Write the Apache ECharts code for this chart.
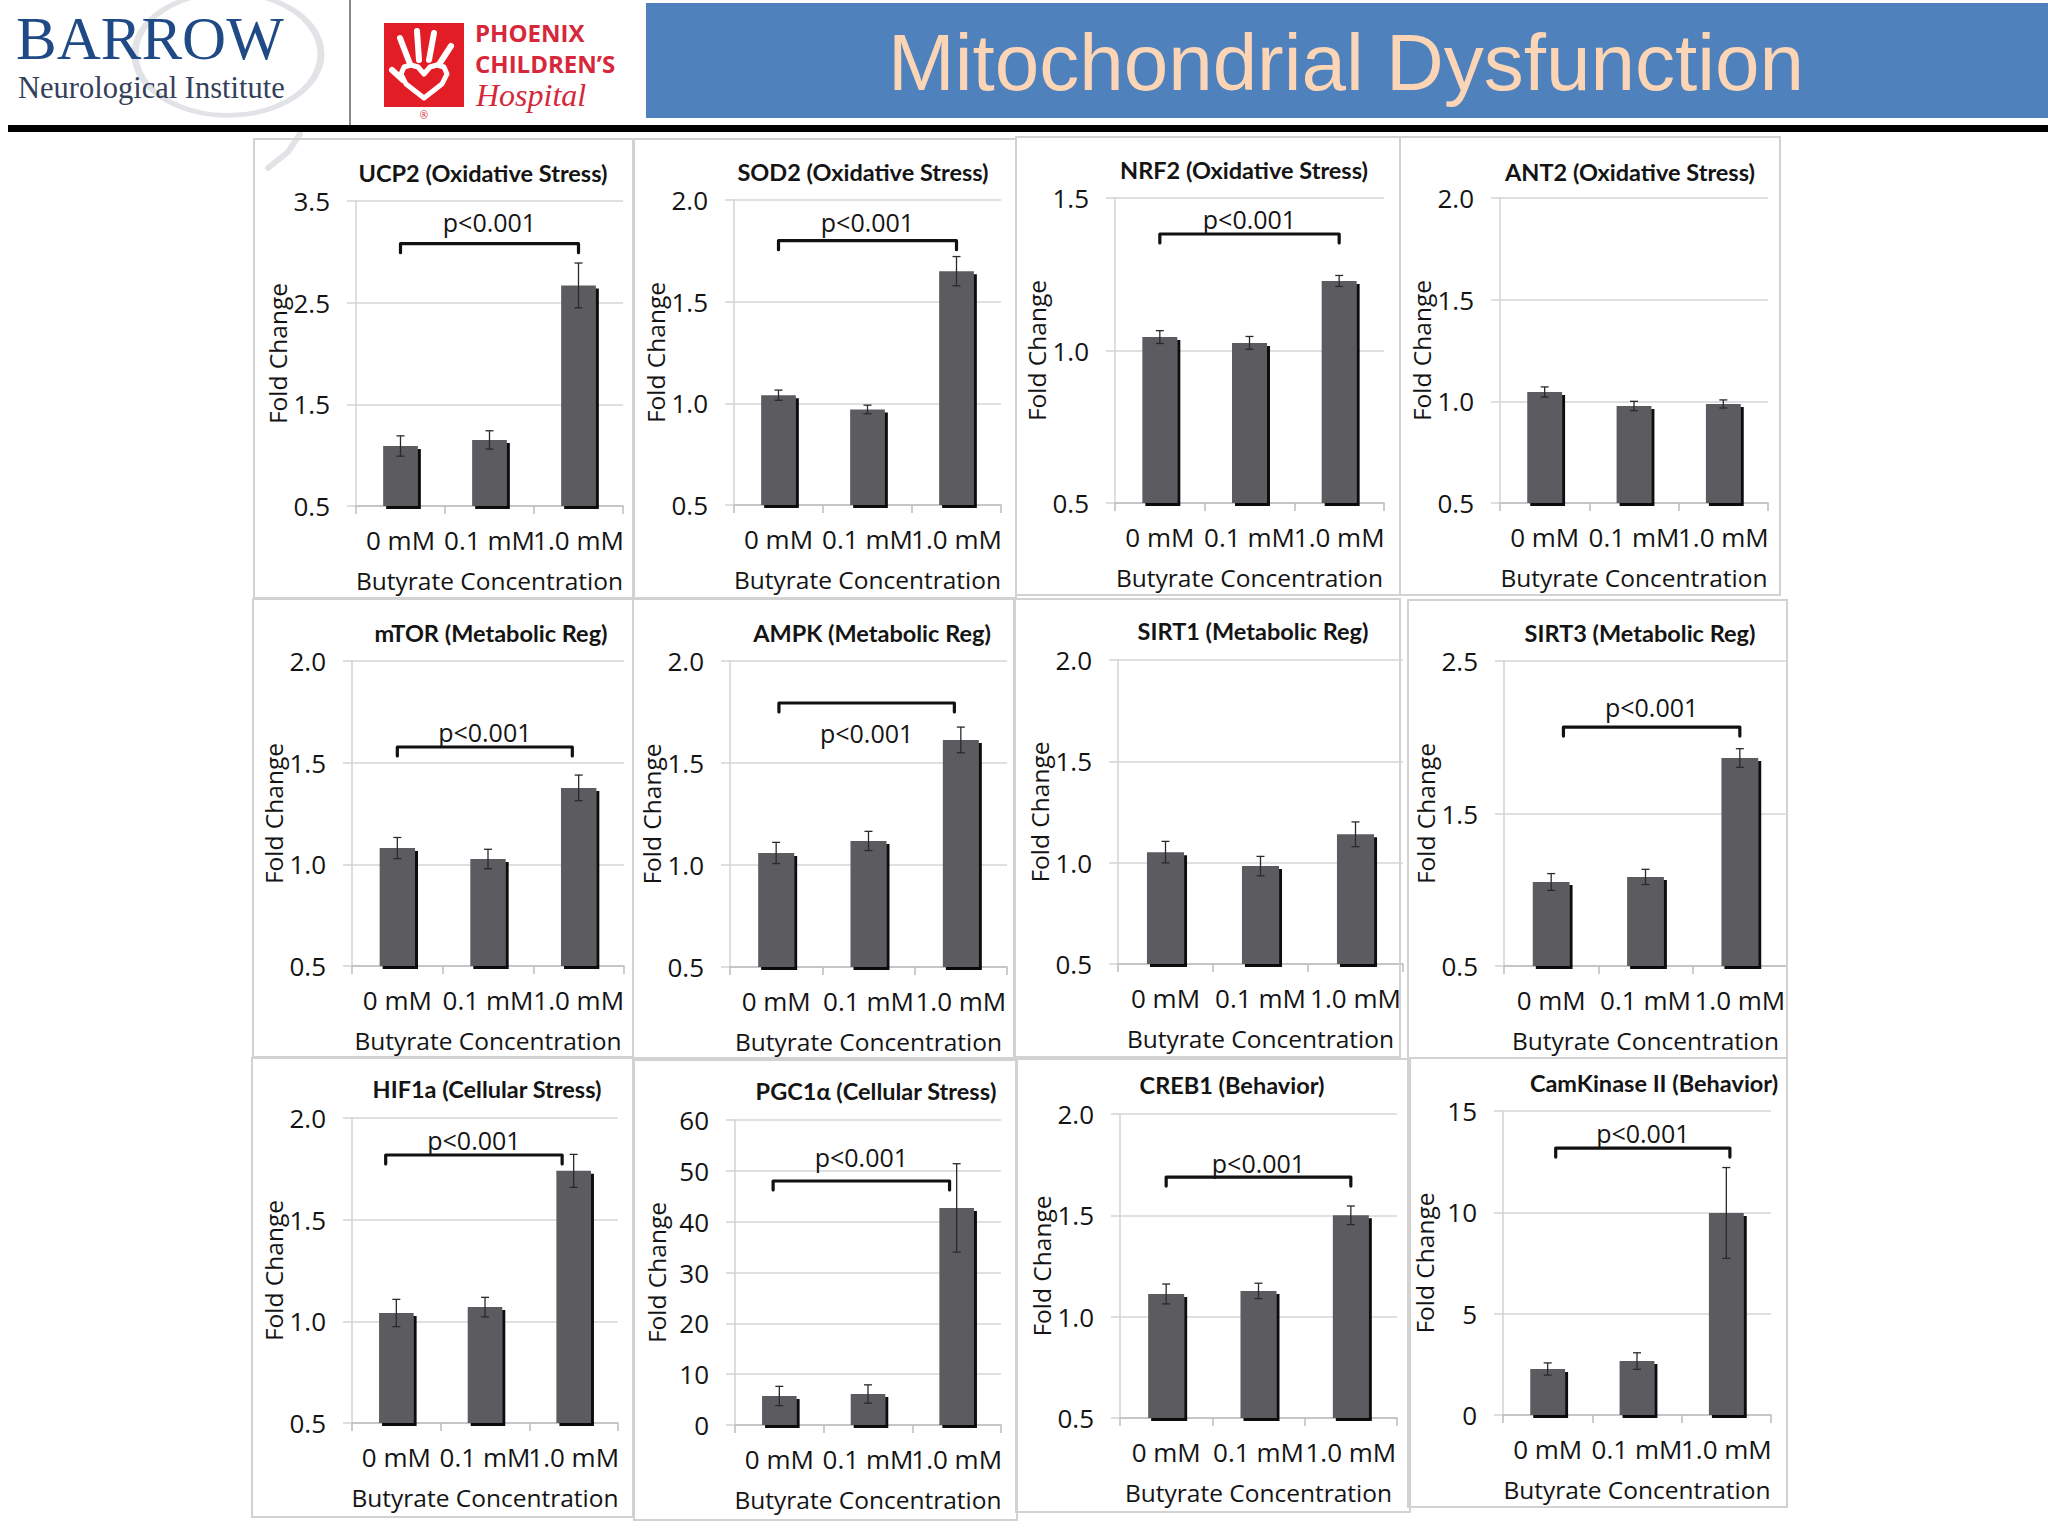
<!DOCTYPE html>
<html>
<head>
<meta charset="utf-8">
<script src="https://cdn.jsdelivr.net/npm/echarts@6/dist/echarts.min.js"></script>
<style>
html,body{margin:0;padding:0;background:#ffffff;}
#chart{width:2048px;height:1536px;}
</style>
</head>
<body>
<div id="chart"></div>
<script>
// ---------------- DATA ----------------
const categories = ['0 mM', '0.1 mM', '1.0 mM'];
const panelTitles = [
  'UCP2 (Oxidative Stress)', 'SOD2 (Oxidative Stress)', 'NRF2 (Oxidative Stress)', 'ANT2 (Oxidative Stress)',
  'mTOR (Metabolic Reg)', 'AMPK (Metabolic Reg)', 'SIRT1 (Metabolic Reg)', 'SIRT3 (Metabolic Reg)',
  'HIF1a (Cellular Stress)', 'PGC1\u03b1 (Cellular Stress)', 'CREB1 (Behavior)', 'CamKinase II (Behavior)'
];
const pageTitle = 'Mitochondrial Dysfunction';
const xAxisName = 'Butyrate Concentration';
const yAxisName = 'Fold Change';
const pText = 'p<0.001';

const ucp2 = [1.09, 1.15, 2.67];       const ucp2Err = [0.10, 0.09, 0.22];
const sod2 = [1.04, 0.97, 1.65];       const sod2Err = [0.025, 0.021, 0.072];
const nrf2 = [1.044, 1.025, 1.228];    const nrf2Err = [0.021, 0.021, 0.018];
const ant2 = [1.046, 0.977, 0.987];    const ant2Err = [0.025, 0.023, 0.02];
const mtor = [1.08, 1.026, 1.376];     const mtorErr = [0.052, 0.048, 0.063];
const ampk = [1.059, 1.118, 1.613];    const ampkErr = [0.052, 0.047, 0.063];
const sirt1 = [1.052, 0.983, 1.14];    const sirt1Err = [0.053, 0.048, 0.061];
const sirt3 = [1.051, 1.084, 1.864];   const sirt3Err = [0.055, 0.05, 0.061];
const hif1a = [1.041, 1.07, 1.74];     const hif1aErr = [0.067, 0.048, 0.081];
const pgc1a = [5.7, 6.1, 42.7];        const pgc1aErr = [1.9, 1.8, 8.7];
const creb1 = [1.112, 1.127, 1.50];    const creb1Err = [0.049, 0.038, 0.046];
const camk2 = [2.27, 2.66, 9.97];      const camk2Err = [0.30, 0.41, 2.24];

const means = [ucp2, sod2, nrf2, ant2, mtor, ampk, sirt1, sirt3, hif1a, pgc1a, creb1, camk2];
const errors = [ucp2Err, sod2Err, nrf2Err, ant2Err, mtorErr, ampkErr, sirt1Err, sirt3Err, hif1aErr, pgc1aErr, creb1Err, camk2Err];

// y-axis ticks
const axisMin  = [0.5, 0.5, 0.5, 0.5, 0.5, 0.5, 0.5, 0.5, 0.5, 0, 0.5, 0];
const axisMax  = [3.5, 2.0, 1.5, 2.0, 2.0, 2.0, 2.0, 2.5, 2.0, 60, 2.0, 15];
const axisStep = [1, 0.5, 0.5, 0.5, 0.5, 0.5, 0.5, 1, 0.5, 10, 0.5, 5];
const tickDecimals = [1, 1, 1, 1, 1, 1, 1, 1, 1, 0, 1, 0];

// significance brackets (between 0 mM and 1.0 mM): value level of bracket and of its label
const bracketLevel = [3.08, 1.80, 1.382, null, 1.577, 1.794, null, 2.067, 1.818, 48.0, 1.689, 13.17];
const pLabelLevel  = [3.29, 1.89, 1.43,  null, 1.65,  1.647, null, 2.20,  1.89,  52.7, 1.76,  13.9];
// bracket end shifts from the bar centres, in category widths
const bracketStartShift = [0, 0, 0, 0, 0, 0.03, 0, 0.13, -0.12, -0.07, 0, 0.09];
const bracketEndShift   = [0, 0, 0, 0, -0.07, -0.07, 0, 0, -0.13, -0.08, 0, 0.04];

// ---------------- LAYOUT (pixels) ----------------
// plot area: [left, top, right, bottom]
const plotBoxes = [
  [356, 201, 623, 506], [734, 200, 1001, 505], [1115, 198, 1384, 503], [1500, 198, 1768, 503],
  [352, 661, 624, 966], [730, 661, 1007, 967], [1118, 660, 1403, 964], [1504, 661, 1787, 966],
  [352, 1118, 618, 1423], [735, 1120, 1001, 1425], [1120, 1114, 1397, 1418], [1503, 1111, 1771, 1415]
];
// panel frames: [x0, y0, x1, y1]
const panelBoxes = [
  [254, 139, 633, 598], [634, 139, 1016, 598], [1016, 137, 1400, 595], [1400, 137, 1780, 595],
  [253, 599, 633, 1057], [633, 599, 1015, 1058], [1014, 599, 1400, 1057], [1408, 600, 1787, 1058],
  [252, 1058, 633, 1517], [634, 1060, 1017, 1520], [1016, 1059, 1410, 1512], [1408, 1058, 1787, 1507]
];
const titleCenters = [
  [483, 173], [863, 172], [1244, 170], [1630, 172],
  [491, 633], [872, 633], [1253, 631], [1640, 633],
  [487, 1089], [876, 1091], [1232, 1085], [1654, 1083]
];

const FONT = '"Open Sans", "DejaVu Sans", sans-serif';
const SERIF = '"Liberation Serif", "DejaVu Serif", serif';
const TXT = '#141414';

// ---------------- BUILD OPTION ----------------
const grids = [], xAxes = [], yAxes = [], series = [];

function errRender(params, api) {
  const x = api.value(0);
  const lo = api.coord([x, api.value(1)]);
  const hi = api.coord([x, api.value(2)]);
  const cap = 4;
  const st = { stroke: '#2a2a2a', lineWidth: 1.3 };
  return {
    type: 'group',
    children: [
      { type: 'line', shape: { x1: lo[0], y1: lo[1], x2: hi[0], y2: hi[1] }, style: st },
      { type: 'line', shape: { x1: lo[0] - cap, y1: lo[1], x2: lo[0] + cap, y2: lo[1] }, style: st },
      { type: 'line', shape: { x1: hi[0] - cap, y1: hi[1], x2: hi[0] + cap, y2: hi[1] }, style: st }
    ]
  };
}

function bracketRender(params, api) {
  const band = api.size([1, 0])[0];
  const a = api.coord([api.value(0), api.value(2)]);
  const b = api.coord([api.value(1), api.value(2)]);
  const t = api.coord([api.value(0), api.value(3)]);
  const xa = a[0] + api.value(4) * band;
  const xb = b[0] + api.value(5) * band;
  const drop = 9;
  return {
    type: 'group',
    children: [
      {
        type: 'polyline',
        shape: { points: [[xa, a[1] + drop], [xa, a[1]], [xb, b[1]], [xb, b[1] + drop]] },
        style: { stroke: '#111', lineWidth: 3.2, lineJoin: 'round', lineCap: 'round', fill: null }
      },
      {
        type: 'text',
        x: (xa + xb) / 2, y: t[1],
        style: { text: pText, fill: TXT, font: '25px ' + FONT, align: 'center', verticalAlign: 'middle' }
      }
    ]
  };
}

for (let i = 0; i < 12; i++) {
  const [l, t, r, b] = plotBoxes[i];
  grids.push({ left: l, top: t, width: r - l, height: b - t, containLabel: false });
  xAxes.push({
    type: 'category', gridIndex: i, data: categories,
    axisLine: { show: true, lineStyle: { color: '#bdbdbd', width: 1.5 } },
    axisTick: { show: true, length: 8, lineStyle: { color: '#bdbdbd', width: 1.5 } },
    axisLabel: { interval: 0, margin: 21, fontSize: 26, fontFamily: FONT, color: TXT },
    splitLine: { show: false },
    name: xAxisName, nameLocation: 'middle', nameGap: 62,
    nameTextStyle: { fontSize: 24.5, fontFamily: FONT, color: TXT }
  });
  const dec = tickDecimals[i];
  yAxes.push({
    type: 'value', gridIndex: i,
    min: axisMin[i], max: axisMax[i], interval: axisStep[i],
    axisLine: { show: true, lineStyle: { color: '#d3d3d3', width: 1.5 } },
    axisTick: { show: true, length: 9, lineStyle: { color: '#d3d3d3', width: 1.5 } },
    splitLine: { show: true, lineStyle: { color: '#d6d6d6', width: 1.5 } },
    axisLabel: { margin: 26, fontSize: 26, fontFamily: FONT, color: TXT, formatter: v => Number(v).toFixed(dec) },
    name: yAxisName, nameLocation: 'middle', nameGap: 66,
    nameTextStyle: { fontSize: 24.5, fontFamily: FONT, color: TXT }
  });
  series.push({
    type: 'bar', xAxisIndex: i, yAxisIndex: i,
    data: means[i], barWidth: '39%', clip: true,
    itemStyle: { color: '#5c5c60', shadowColor: 'rgba(0,0,0,0.95)', shadowOffsetX: 3, shadowOffsetY: 3, shadowBlur: 0 },
    emphasis: { disabled: true }, silent: true, z: 2
  });
  series.push({
    type: 'custom', xAxisIndex: i, yAxisIndex: i,
    data: means[i].map((m, j) => [j, m - errors[i][j], m + errors[i][j]]),
    encode: { x: 0, y: [1, 2] },
    renderItem: errRender, silent: true, z: 4
  });
  if (bracketLevel[i] !== null) {
    series.push({
      type: 'custom', xAxisIndex: i, yAxisIndex: i,
      data: [[0, 2, bracketLevel[i], pLabelLevel[i], bracketStartShift[i], bracketEndShift[i]]],
      encode: { x: [0, 1], y: [2, 3] },
      renderItem: bracketRender, silent: true, z: 5
    });
  }
}

// ---------------- GRAPHIC (header, frames, titles) ----------------
const elements = [];
// faint "Q" ring of the Barrow logo
elements.push({ type: 'circle', x: 228, y: 54, scaleY: 0.66, shape: { cx: 0, cy: 0, r: 93 }, style: { fill: null, stroke: '#cdd1d7', lineWidth: 7, opacity: 0.6 }, z: 0 });
elements.push({ type: 'polyline', shape: { points: [[300, 134], [288, 152], [268, 168]] }, style: { fill: null, stroke: '#cdd1d7', lineWidth: 6, lineCap: 'round', opacity: 0.6 }, z: 0 });
elements.push({ type: 'text', x: 16, y: 38, style: { text: 'BARROW', font: '61px ' + SERIF, fill: '#1f4a85', align: 'left', verticalAlign: 'middle' }, z: 5 });
elements.push({ type: 'text', x: 18, y: 88, style: { text: 'Neurological Institute', font: '30.5px ' + SERIF, fill: '#34405a', align: 'left', verticalAlign: 'middle' }, z: 5 });
// separator
elements.push({ type: 'line', shape: { x1: 350, y1: 0, x2: 350, y2: 130 }, style: { stroke: '#8a8a8a', lineWidth: 2 }, z: 5 });
// Phoenix Children's logo (simplified hand and heart)
elements.push({ type: 'rect', shape: { x: 384, y: 23, width: 80, height: 84 }, style: { fill: '#e31d25' }, z: 5 });
const handStyle = { stroke: '#ffffff', lineWidth: 6, lineCap: 'round', fill: null };
elements.push({ type: 'line', shape: { x1: 410, y1: 64, x2: 400, y2: 38 }, style: handStyle, z: 6 });
elements.push({ type: 'line', shape: { x1: 419, y1: 60, x2: 417, y2: 31 }, style: handStyle, z: 6 });
elements.push({ type: 'line', shape: { x1: 429, y1: 60, x2: 434, y2: 33 }, style: handStyle, z: 6 });
elements.push({ type: 'line', shape: { x1: 438, y1: 66, x2: 451, y2: 46 }, style: handStyle, z: 6 });
elements.push({ type: 'line', shape: { x1: 403, y1: 80, x2: 392, y2: 70 }, style: handStyle, z: 6 });
elements.push({ type: 'polygon', shape: { points: [[424, 98], [406, 84], [401, 74], [404, 67], [411, 65], [418, 67], [424, 74], [430, 67], [437, 65], [444, 67], [447, 74], [442, 84]] }, style: { fill: '#e31d25', stroke: '#ffffff', lineWidth: 5, lineJoin: 'round' }, z: 6 });
elements.push({ type: 'text', x: 424, y: 115, style: { text: '\u00ae', font: '10px ' + FONT, fill: '#d6283a', align: 'center', verticalAlign: 'middle' }, z: 6 });
elements.push({ type: 'text', x: 475, y: 32, style: { text: 'PHOENIX', font: 'bold 24px ' + FONT, fill: '#d6283a', align: 'left', verticalAlign: 'middle' }, z: 5 });
elements.push({ type: 'text', x: 475, y: 63, style: { text: 'CHILDREN\u2019S', font: 'bold 24px ' + FONT, fill: '#d6283a', align: 'left', verticalAlign: 'middle' }, z: 5 });
elements.push({ type: 'text', x: 476, y: 95, style: { text: 'Hospital', font: 'italic 32px ' + SERIF, fill: '#d6283a', align: 'left', verticalAlign: 'middle' }, z: 5 });
// title banner
elements.push({ type: 'rect', shape: { x: 646, y: 3, width: 1402, height: 115 }, style: { fill: '#4f81bd' }, z: 5 });
elements.push({ type: 'text', x: 1346, y: 62, style: { text: pageTitle, font: '80px "Liberation Sans", Arial, sans-serif', fill: '#fbd5b5', align: 'center', verticalAlign: 'middle' }, z: 6 });
// black rule
elements.push({ type: 'rect', shape: { x: 8, y: 125, width: 2040, height: 7 }, style: { fill: '#000000' }, z: 7 });
// panel frames and titles
for (let i = 0; i < 12; i++) {
  const [x0, y0, x1, y1] = panelBoxes[i];
  elements.push({ type: 'rect', shape: { x: x0, y: y0, width: x1 - x0, height: y1 - y0 }, style: { fill: null, stroke: '#d2d2d2', lineWidth: 2 }, z: 1 });
  const [cx, cy] = titleCenters[i];
  elements.push({ type: 'text', x: cx, y: cy, style: { text: panelTitles[i], font: 'bold 23.5px Lato, "Open Sans", sans-serif', fill: TXT, align: 'center', verticalAlign: 'middle' }, z: 5 });
}

const option = {
  backgroundColor: '#ffffff',
  animation: false,
  grid: grids,
  xAxis: xAxes,
  yAxis: yAxes,
  series: series,
  graphic: { elements: elements }
};

const chart = echarts.init(document.getElementById('chart'), null, { renderer: 'svg', width: 2048, height: 1536 });
chart.setOption(option);
</script>
</body>
</html>
